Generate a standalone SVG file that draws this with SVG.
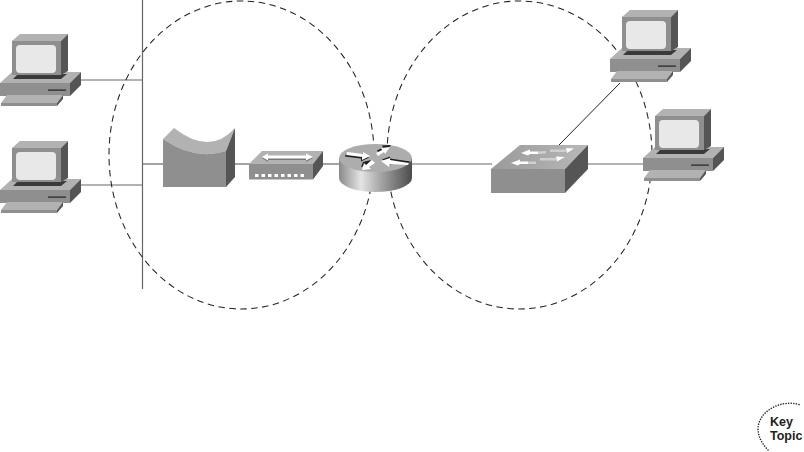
<svg xmlns="http://www.w3.org/2000/svg" width="804" height="452" viewBox="0 0 804 452">
<style>
.link{stroke:#9a9a9a;stroke-width:1.3;fill:none}
.dark{stroke:#666;stroke-width:1.2;fill:none}
.zone{fill:none;stroke:#222;stroke-width:1.05;stroke-dasharray:6.500 4.500}
.top{fill:#b2b2b2}.front{fill:#8f8f8f}.side{fill:#555}
.w{fill:#fff}.k{fill:#1c1c1c}
.kt{font-family:"Liberation Sans",Arial,sans-serif;font-weight:bold;font-size:12.5px;fill:#222}
</style>
<defs>
<linearGradient id="cyl" x1="0" x2="1" y1="0" y2="0">
<stop offset="0" stop-color="#8a8a8a"/><stop offset=".3" stop-color="#e4e4e4"/><stop offset=".55" stop-color="#aaa"/><stop offset="1" stop-color="#4c4c4c"/>
</linearGradient>
<linearGradient id="ftop" x1="0" x2="1" y1="0" y2="0">
<stop offset="0" stop-color="#9a9a9a"/><stop offset="1" stop-color="#b8b8b8"/>
</linearGradient>
<g id="pc">
<polygon class="top" points="12,38 81,38 70,49 0,49"/>
<polygon class="front" points="0,49 70,49 70,62 0,62"/>
<polygon class="side" points="70,49 81,38 81,51 70,62"/>
<polygon points="17,41 13,45 61,45 67,40" fill="#3a3a3a"/>
<polygon class="top" points="12,7 20,0 68,0 61,7"/>
<polygon class="front" points="12,7 61,7 61,41 12,41"/>
<polygon class="side" points="61,7 68,0 68,37 61,41"/>
<rect x="16" y="11" width="40" height="28" rx="4" fill="#e8e8e8"/>
<rect x="48" y="55.500" width="18" height="1.200" fill="#222"/>
<polygon class="top" points="7,61 63,61 57,69 1,69"/>
<polygon class="front" points="1,69 57,69 57,72 1,72"/>
<polygon class="side" points="57,69 63,61 63,65 57,72"/>
</g>
</defs>
<g id="connectors">
<line class="dark" x1="142.500" y1="0" x2="142.500" y2="289"/>
<line class="link" x1="80" y1="80" x2="142" y2="80"/>
<line class="link" x1="80" y1="185" x2="142" y2="185"/>
<line class="dark" x1="143" y1="164" x2="165" y2="164"/>
<line class="dark" x1="234" y1="164" x2="250" y2="164"/>
<line class="dark" x1="322" y1="164" x2="340" y2="164"/>
<line class="dark" x1="411" y1="164" x2="492" y2="164"/>
<line class="dark" x1="587" y1="164" x2="644" y2="164"/>
<line x1="559" y1="145" x2="620" y2="83" stroke="#222" stroke-width="1"/>
</g>
<g id="zones">
<ellipse class="zone" cx="241.500" cy="155" rx="132.500" ry="154"/>
<ellipse class="zone" cx="519.500" cy="155" rx="132.500" ry="154"/>
</g>
<g id="pc1"><use href="#pc" transform="translate(0,34)"/></g>
<g id="pc2"><use href="#pc" transform="translate(0,141)"/></g>
<g id="pc3"><use href="#pc" transform="translate(610,10)"/></g>
<g id="pc4"><use href="#pc" transform="translate(643,109)"/></g>
<g id="modem">
<path class="top" d="M163,139 L174,128 Q210,156 235,128 L226,151 Q195,161 163,139Z"/>
<path class="front" d="M163,139 Q195,161 226,151 L226,187 L163,187Z"/>
<polygon class="side" points="226,151 235,128 235,177 226,187"/>
</g>
<g id="hub">
<polygon class="top" points="262,151 323,151 313,164 249,164"/>
<polygon class="front" points="249,164 313,164 313,179.500 249,179.500"/>
<polygon class="side" points="313,164 323,151 323,166 313,179.500"/>
<polygon fill="#777" points="262,158 268,155 268,157 306,157 306,155 313,158 306,162 306,160 268,160 268,162"/>
<polygon class="w" points="262,157 268,153.500 268,155.500 306,155.500 306,153.500 313,157 306,160.500 306,158.500 268,158.500 268,160.500"/>
<path class="w" d="M255,174h3.500v3h-3.500zM261.500,174h3.500v3h-3.500zM268,174h3.500v3h-3.500zM274.500,174h3.500v3h-3.500zM281,174h3.500v3h-3.500zM287.500,174h3.500v3h-3.500zM294,174h3.500v3h-3.500zM300.500,174h3.500v3h-3.500z"/>
</g>
<g id="router">
<path d="M339,158 V178 A36.500,14 0 0 0 412,178 V158Z" fill="url(#cyl)"/>
<ellipse cx="375.500" cy="158" rx="36.500" ry="14" fill="#adadad"/>
<polygon class="k" points="346,153.500 362,155.500 362,153.500 369,157.500 361,161.500 361,158.500 345,156.500"/>
<polygon class="w" points="347,152 363,154 363,152 370,156 362,160 362,157 346,155"/>
<polygon class="k" points="377,150.500 383,147.500 382,145.500 391,145 386,151.500 385,149.500 379,153.500"/>
<polygon class="w" points="376,153 382,150 381,148 390,147 385,154 384,152 378,156"/>
<polygon class="k" points="361,167 363,162 371,160 367,165"/>
<polygon class="w" points="362,170 364,163 366,165 372,160 375,163 369,167 371,169"/>
<polygon class="k" points="382,159.500 390,156.500 390,158.500 410,161.500 409,163.500 391,162.500 390,165.500"/>
<polygon class="w" points="381,161 390,158 390,160 409,163 408,165 390,164 389,167"/>
</g>
<g id="switch">
<polygon fill="url(#ftop)" points="520,145 588,145 565,169 491,169"/>
<polygon class="front" points="491,169 565,169 565,193 491,193"/>
<polygon class="side" points="565,169 588,145 588,169 565,193"/>
<polygon class="w" points="521,153 530,149.500 530,151.500 538,151.500 538,154 530,154 528,155.500"/>
<polygon fill="#cfcfcf" points="538,151.500 546,151 546,153.500 538,154"/>
<polygon fill="#cfcfcf" points="550,149.500 566,149.500 566,152 550,152"/>
<polygon class="w" points="566,148 574,148.500 567,153"/>
<polygon class="w" points="511,163 520,159.500 520,161.500 528,161.500 528,164 520,164 518,165.500"/>
<polygon fill="#cfcfcf" points="528,161.500 536,161.500 536,164 528,164"/>
<polygon fill="#cfcfcf" points="540,158 556,158 556,160.500 540,160.500"/>
<polygon class="w" points="556,156.500 565,157 557,161.500"/>
</g>
<g id="key-topic">
<path d="M799,404.500 C780,399 758,412 758,429 C758,437 763,445 769,451" fill="none" stroke="#222" stroke-width="1.500" stroke-linecap="round" stroke-dasharray="0.100 2.500"/>
<text class="kt" x="770" y="425.500">Key</text>
<text class="kt" x="770" y="439.500">Topic</text>
</g>
</svg>
